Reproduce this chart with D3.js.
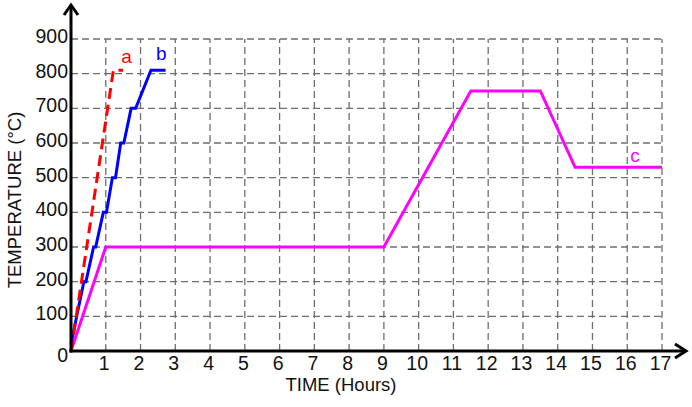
<!DOCTYPE html>
<html lang="en">
<head>
<meta charset="utf-8">
<title>Temperature vs time</title>
<script src="https://d3js.org/d3.v7.min.js"></script>
<style>
body { margin: 0; background: #fff; }
text { font-family: "Liberation Sans", Arial, sans-serif; }
</style>
</head>
<body>
<div id="chart"></div>
<script>
// data: [hours, temperature]
var hoursTicks = [1,2,3,4,5,6,7,8,9,10,11,12,13,14,15,16,17];
var tempTicks = [100,200,300,400,500,600,700,800,900];

var curveA = [[0,0],[1.22,810],[1.5,810]];
var curveB = [[0,20],[0.37,200],[0.43,200],[0.65,300],[0.71,300],[0.93,400],[1.02,400],
              [1.19,500],[1.28,500],[1.43,600],[1.52,600],[1.73,700],[1.86,700],[2.3,810],[2.72,810]];
var curveC = [[0,0],[1,300],[9,300],[11.5,750],[13.5,750],[14.5,530],[17,530]];

var labels = [
  {t:"a", h:1.6, v:830, c:"#ff0000"},
  {t:"b", h:2.6, v:840, c:"#0000ff"},
  {t:"c", h:16.22, v:545, c:"#ff00ff"}
];

var W = 692, H = 407;
var x0 = 71, y0 = 351;

var svg = d3.select("#chart").append("svg")
  .attr("width", W).attr("height", H);

var x = d3.scaleLinear().domain([0,17]).range([x0, 662]);
var y = d3.scaleLinear().domain([0,900]).range([y0, 39]);

// grid
svg.selectAll(".vgrid").data(hoursTicks).enter().append("line")
  .attr("x1", d => x(d)).attr("x2", d => x(d))
  .attr("y1", y(0)).attr("y2", y(900))
  .attr("stroke", "#6e6e6e").attr("stroke-width", 1.3)
  .attr("stroke-dasharray", "7,4");

svg.selectAll(".hgrid").data(tempTicks).enter().append("line")
  .attr("x1", x(0)).attr("x2", x(17))
  .attr("y1", d => y(d)).attr("y2", d => y(d))
  .attr("stroke", "#6e6e6e").attr("stroke-width", 1.3)
  .attr("stroke-dasharray", "7,4");

// tick labels
svg.selectAll(".xl").data(hoursTicks).enter().append("text")
  .attr("x", d => x(d) - 1.5).attr("y", 370)
  .attr("text-anchor", "middle").attr("font-size", 19.5)
  .attr("fill", "#111").text(d => d);

svg.selectAll(".yl").data(tempTicks).enter().append("text")
  .attr("x", 68).attr("y", d => y(d) + 4)
  .attr("text-anchor", "end").attr("font-size", 19.5)
  .attr("fill", "#111").text(d => d);

svg.append("text").attr("x", 68).attr("y", 362)
  .attr("text-anchor", "end").attr("font-size", 19.5)
  .attr("fill", "#111").text("0");

// curves
var line = d3.line().x(d => x(d[0])).y(d => y(d[1]));

svg.append("path").datum(curveC).attr("d", line)
  .attr("fill", "none").attr("stroke", "#ff00ff").attr("stroke-width", 3);
svg.append("path").datum(curveB).attr("d", line)
  .attr("fill", "none").attr("stroke", "#0000ff").attr("stroke-width", 3);
svg.append("path").datum(curveA).attr("d", line)
  .attr("fill", "none").attr("stroke", "#ff0000").attr("stroke-width", 3)
  .attr("stroke-dasharray", "11,6");

svg.selectAll(".lab").data(labels).enter().append("text")
  .attr("x", d => x(d.h)).attr("y", d => y(d.v))
  .attr("text-anchor", "middle").attr("font-size", 19)
  .attr("fill", d => d.c).text(d => d.t);

// axes with arrows
svg.append("line").attr("x1", x0).attr("x2", x0).attr("y1", y0 + 1.5).attr("y2", 5)
  .attr("stroke", "#000").attr("stroke-width", 3);
svg.append("line").attr("x1", x0 - 1.5).attr("x2", 686).attr("y1", y0).attr("y2", y0)
  .attr("stroke", "#000").attr("stroke-width", 3);
svg.append("path").attr("d", "M" + (x0 - 7) + ",15 L" + x0 + ",5 L" + (x0 + 7) + ",15")
  .attr("fill", "none").attr("stroke", "#000").attr("stroke-width", 3);
svg.append("path").attr("d", "M675," + (y0 - 7) + " L686," + y0 + " L675," + (y0 + 7))
  .attr("fill", "none").attr("stroke", "#000").attr("stroke-width", 3);

// axis titles
svg.append("text").attr("x", 341).attr("y", 391)
  .attr("text-anchor", "middle").attr("font-size", 18.5)
  .attr("fill", "#111").text("TIME (Hours)");
svg.append("text").attr("transform", "translate(21,200) rotate(-90)")
  .attr("text-anchor", "middle").attr("font-size", 18.5)
  .attr("fill", "#111").text("TEMPERATURE (°C)");
</script>
</body>
</html>
